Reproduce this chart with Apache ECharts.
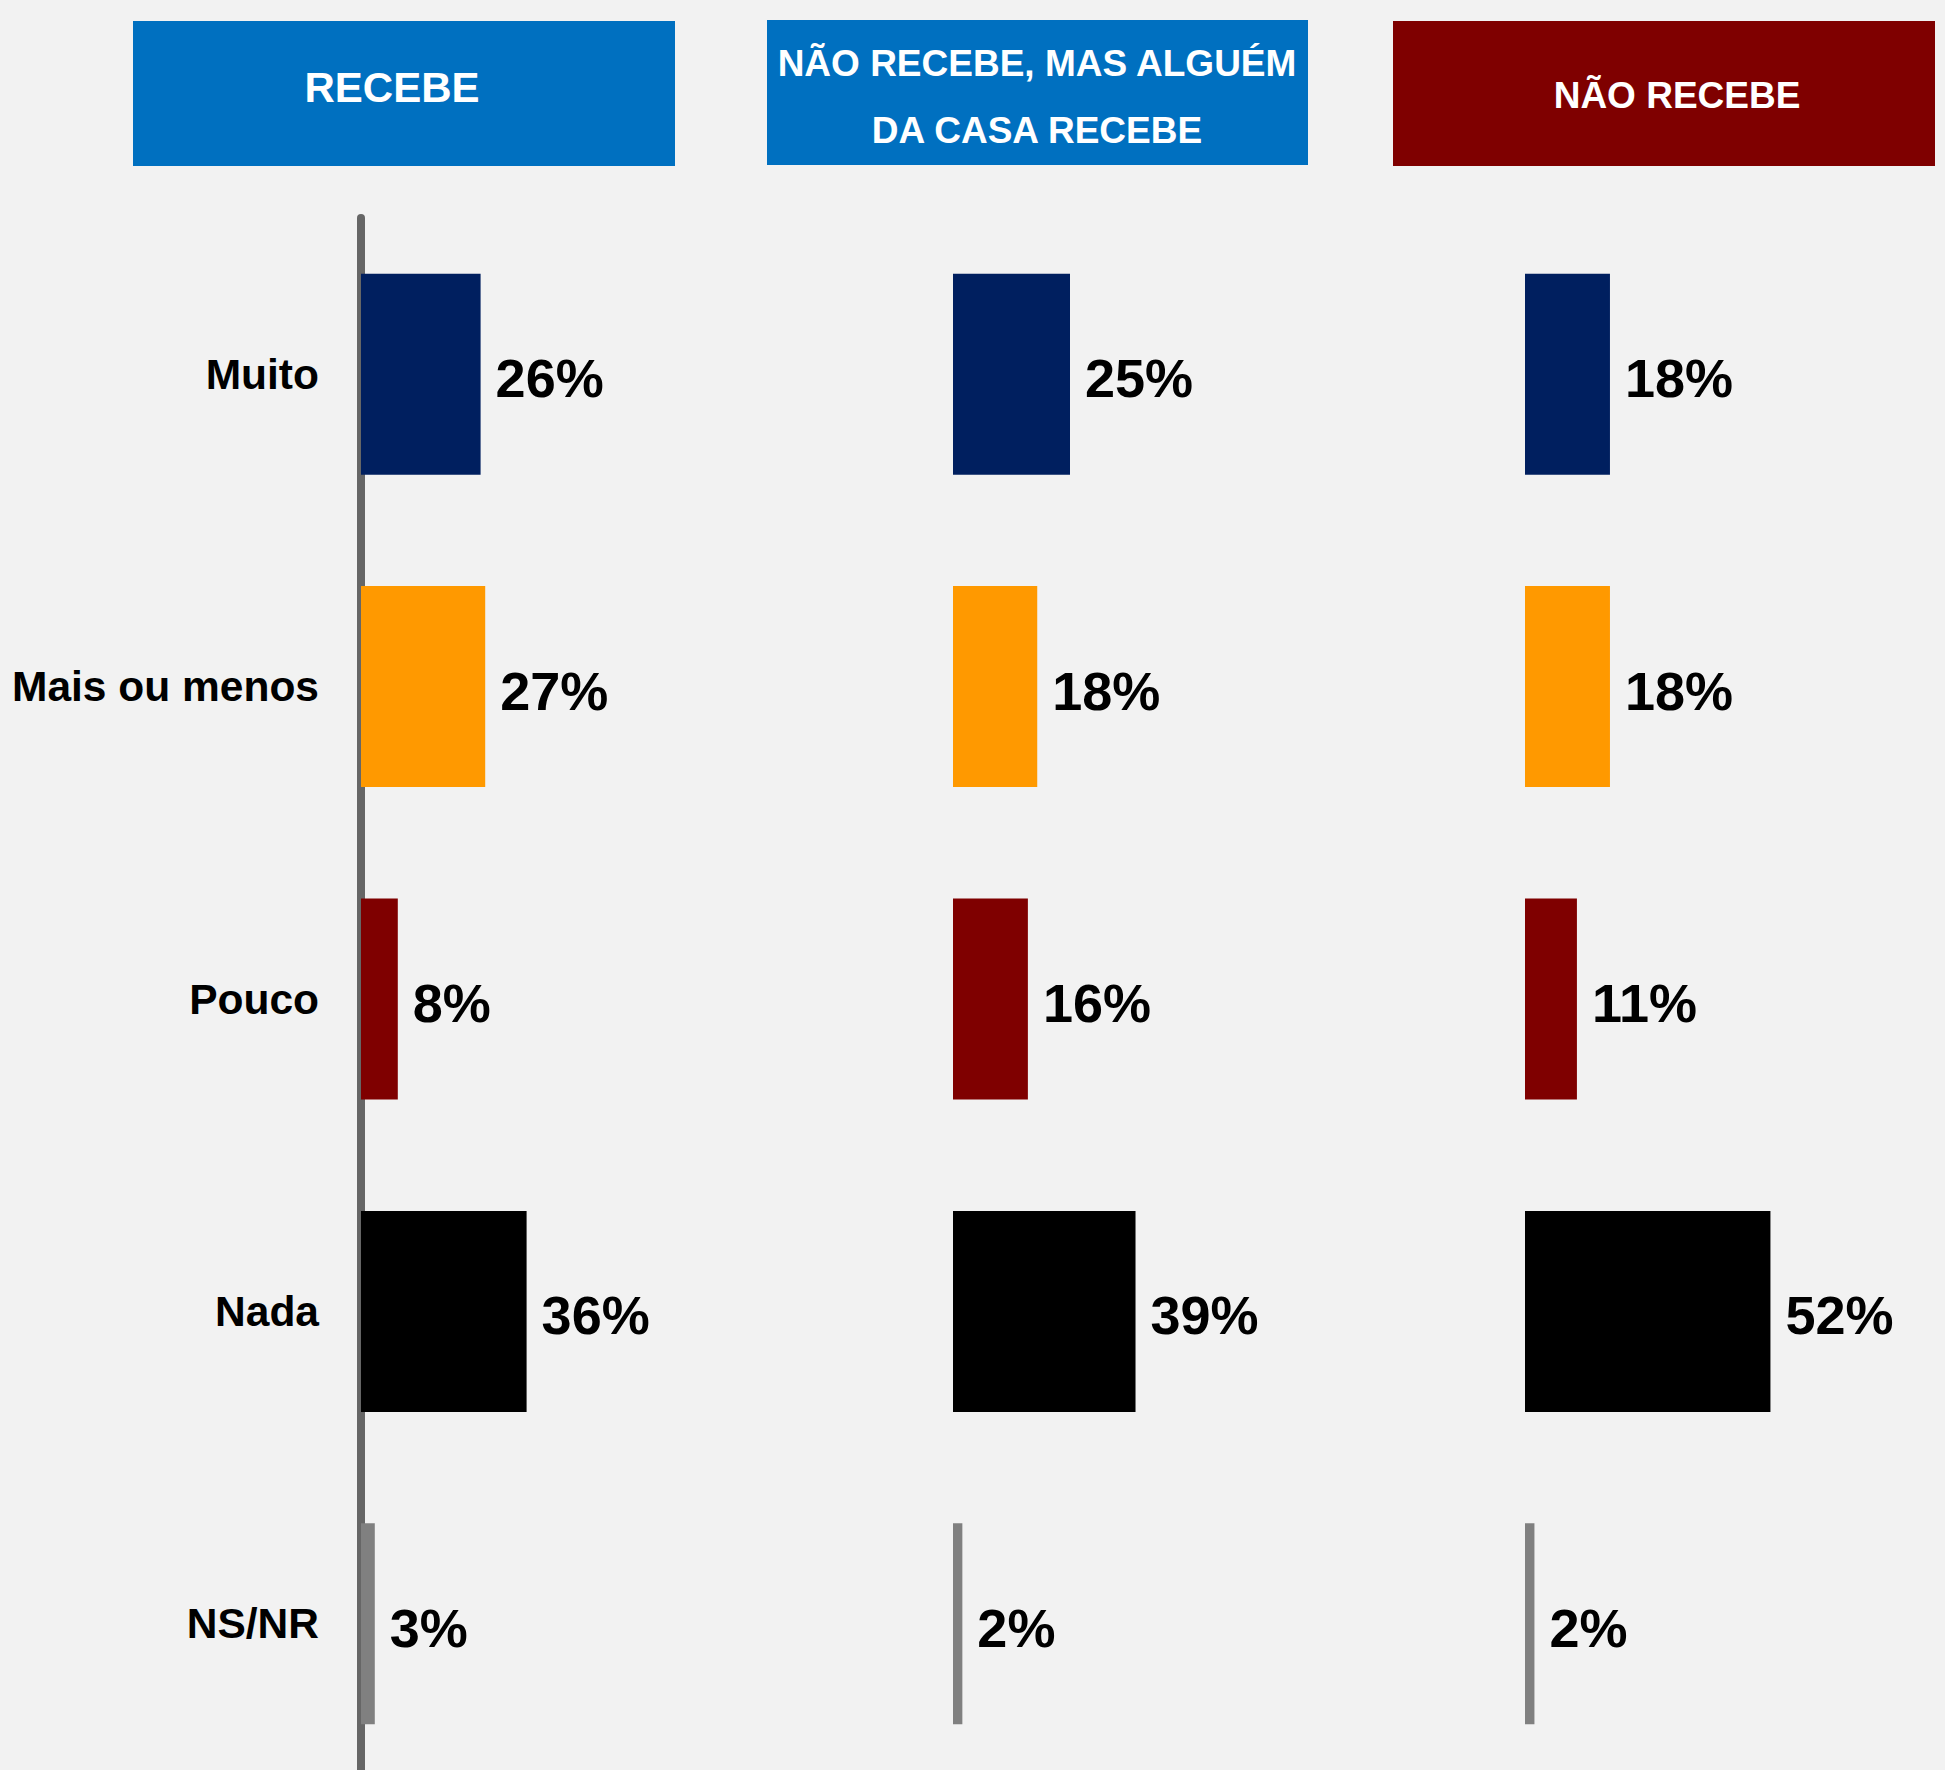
<!DOCTYPE html>
<html>
<head>
<meta charset="utf-8">
<style>
  html, body { margin: 0; padding: 0; background: #F2F2F2; overflow: hidden; width: 1945px; height: 1770px; }
  #chart { width: 2000px; height: 1790px; }
</style>
<script src="https://cdn.jsdelivr.net/npm/echarts@6/dist/echarts.min.js"></script>
</head>
<body>
<div id="chart"></div>
<script>
// ---- data ----
const categories = ['Muito', 'Mais ou menos', 'Pouco', 'Nada', 'NS/NR'];
const panelTitles = ['RECEBE', 'NÃO RECEBE, MAS ALGUÉM\nDA CASA RECEBE', 'NÃO RECEBE'];
const recebe = [26, 27, 8, 36, 3];
const naoRecebeMasAlguem = [25, 18, 16, 39, 2];
const naoRecebe = [18, 18, 11, 52, 2];
const seriesValues = [recebe, naoRecebeMasAlguem, naoRecebe];

// ---- styles ----
const barColors = ['#001F5F', '#FF9900', '#7F0000', '#000000', '#808080'];
const headerColors = ['#0070C0', '#0070C0', '#7F0000'];
const FONT = '"Liberation Sans", Arial, sans-serif';

const gridLefts = [361, 953, 1525];
const gridWidths = [460, 468, 472];
const headerBoxes = [
  { x: 133, y: 21, w: 542, h: 145, tx: 392, ty: 87, size: 42 },
  { x: 767, y: 20, w: 541, h: 145, tx: 1037, ty: 97, size: 37 },
  { x: 1393, y: 21, w: 542, h: 145, tx: 1677, ty: 95, size: 37 }
];

const grids = [], xAxes = [], yAxes = [], series = [];
seriesValues.forEach((vals, i) => {
  grids.push({ left: gridLefts[i], top: 218, width: gridWidths[i], height: 1562, containLabel: false });
  xAxes.push({ type: 'value', gridIndex: i, min: 0, max: 100, show: false });
  yAxes.push({
    type: 'category', gridIndex: i, data: categories, inverse: true,
    offset: i === 0 ? 4 : 0,
    axisLine: { show: i === 0, lineStyle: { color: '#666666', width: 8 } },
    axisTick: { show: false },
    axisLabel: {
      show: i === 0, margin: 38, color: '#000', fontSize: 42.5, fontWeight: 'bold', fontFamily: FONT
    },
    splitLine: { show: false }
  });
  series.push({
    type: 'bar', xAxisIndex: i, yAxisIndex: i, barWidth: 201,
    data: vals.map((v, k) => ({ value: v, itemStyle: { color: barColors[k] } })),
    label: {
      show: true, position: 'right', distance: 15, offset: [0, 4], formatter: '{c}%',
      color: '#000', fontSize: 54, fontWeight: 'bold', fontFamily: FONT
    },
    silent: true, animation: false
  });
});

const graphics = [];
headerBoxes.forEach((b, i) => {
  graphics.push({
    type: 'rect', left: b.x, top: b.y, silent: true,
    shape: { width: b.w, height: b.h }, style: { fill: headerColors[i] }
  });
  graphics.push({
    type: 'text', x: b.tx, y: b.ty, silent: true,
    style: {
      text: panelTitles[i], fill: '#FFFFFF', font: 'bold ' + b.size + 'px ' + FONT,
      align: 'center', verticalAlign: 'middle', lineHeight: 67
    }
  });
});

const chart = echarts.init(document.getElementById('chart'), null, { renderer: 'svg' });
chart.setOption({
  backgroundColor: '#F2F2F2',
  animation: false,
  grid: grids, xAxis: xAxes, yAxis: yAxes, series: series,
  graphic: graphics
});
</script>
</body>
</html>
